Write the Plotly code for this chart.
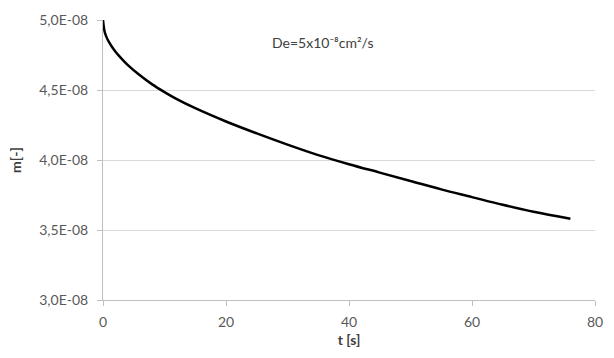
import plotly.graph_objects as go

t_vals = [0, 0.25, 0.5, 1, 2, 3, 4, 6, 8, 10, 12, 15, 20, 25, 30, 35, 40, 45, 50, 55, 60, 65, 70, 76]
m_vals = [5.00e-8, 4.92e-8, 4.885e-8, 4.84e-8, 4.775e-8, 4.725e-8, 4.68e-8, 4.605e-8, 4.54e-8,
          4.485e-8, 4.435e-8, 4.37e-8, 4.275e-8, 4.19e-8, 4.11e-8, 4.035e-8, 3.97e-8, 3.91e-8,
          3.85e-8, 3.79e-8, 3.735e-8, 3.68e-8, 3.63e-8, 3.58e-8]

y_tickvals = [3.0e-8, 3.5e-8, 4.0e-8, 4.5e-8, 5.0e-8]
y_ticktext = ["3,0E-08", "3,5E-08", "4,0E-08", "4,5E-08", "5,0E-08"]
x_tickvals = [0, 20, 40, 60, 80]

font_family = "Lato, Open Sans, sans-serif"
tick_color = "#595959"

fig = go.Figure()
fig.add_trace(go.Scatter(x=t_vals, y=m_vals, mode="lines",
                         line=dict(color="black", width=2.5, shape="spline", smoothing=1.0),
                         showlegend=False))

fig.add_annotation(x=0.34, y=0.92, xref="paper", yref="paper", xanchor="left", yanchor="middle",
                   text="De=5x10⁻⁸cm²/s", showarrow=False,
                   font=dict(family=font_family, size=14, color="#404040"))

fig.update_layout(
    width=614, height=358,
    margin=dict(l=103, r=11, t=20, b=58),
    paper_bgcolor="white", plot_bgcolor="white",
    font=dict(family=font_family, size=14, color=tick_color),
    xaxis=dict(range=[0, 80], tickvals=x_tickvals, showgrid=False,
               showline=True, linecolor="#bfbfbf", linewidth=1,
               ticks="outside", ticklen=5, tickcolor="#bfbfbf", ticklabelstandoff=4,
               tickfont=dict(size=14, color=tick_color), zeroline=False,
               title=dict(text="t [s]", standoff=6,
                          font=dict(size=14, color="#404040", weight="bold"))),
    yaxis=dict(range=[3.0e-8, 5.0e-8], tickvals=y_tickvals, ticktext=y_ticktext,
               showgrid=True, gridcolor="#d9d9d9", gridwidth=1,
               showline=True, linecolor="#bfbfbf", linewidth=1,
               ticks="outside", ticklen=5, tickcolor="#bfbfbf", ticklabelstandoff=6,
               tickfont=dict(size=14, color=tick_color), zeroline=False,
               title=dict(text="m[-]", standoff=14,
                          font=dict(size=14, color="#404040", weight="bold"))),
)

fig.write_html("out.html")
